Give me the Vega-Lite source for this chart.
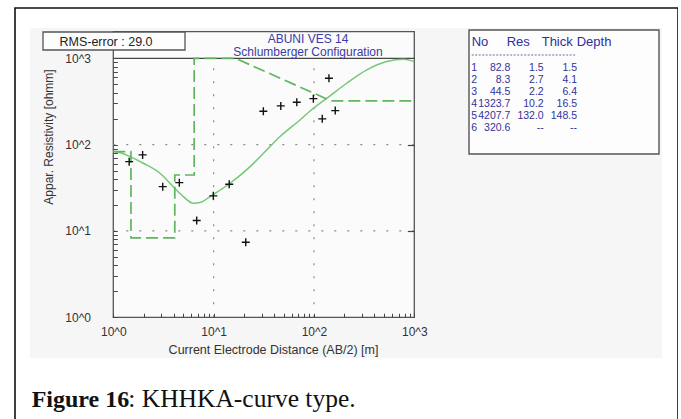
{
  "$schema": "https://vega.github.io/schema/vega-lite/v6.json",
  "width": 663,
  "height": 430,
  "autosize": "none",
  "padding": {"left": 15, "top": 8, "right": 0, "bottom": 0},
  "background": "white",
  "config": {"view": {"stroke": "#111111", "strokeWidth": 1.6, "fill": "white"}},
  "datasets": {
    "curve": [
      {"x": 1, "y": 83}, {"x": 1.2, "y": 80}, {"x": 1.47, "y": 72.6}, {"x": 1.99, "y": 60.9},
      {"x": 2.92, "y": 46.6}, {"x": 3.96, "y": 32.6}, {"x": 4.99, "y": 25}, {"x": 6.28, "y": 20.9},
      {"x": 7.6, "y": 21.7}, {"x": 9.2, "y": 25}, {"x": 14.6, "y": 35.7}, {"x": 23.1, "y": 55.6},
      {"x": 33.8, "y": 86.8}, {"x": 45.9, "y": 124}, {"x": 72.6, "y": 193}, {"x": 98.6, "y": 264},
      {"x": 141, "y": 360}, {"x": 212, "y": 514}, {"x": 336, "y": 734}, {"x": 532, "y": 916},
      {"x": 778, "y": 977}, {"x": 1000, "y": 916}
    ],
    "model": [
      {"x": 1, "y": 82.8}, {"x": 1.5, "y": 82.8}, {"x": 1.5, "y": 8.3}, {"x": 4.1, "y": 8.3},
      {"x": 4.1, "y": 44.5}, {"x": 6.4, "y": 44.5}, {"x": 6.4, "y": 1000}, {"x": 16.5, "y": 1000},
      {"x": 148.5, "y": 320.6}, {"x": 1000, "y": 320.6}
    ],
    "obs": [
      {"x": 1.44, "y": 63.5}, {"x": 1.96, "y": 76}, {"x": 3.11, "y": 32.6}, {"x": 4.55, "y": 36.3},
      {"x": 6.78, "y": 13.2}, {"x": 9.93, "y": 25.5}, {"x": 14.3, "y": 34.8}, {"x": 20.9, "y": 7.4},
      {"x": 31.3, "y": 244}, {"x": 46.7, "y": 281}, {"x": 67.4, "y": 310}, {"x": 98.6, "y": 341},
      {"x": 121, "y": 199}, {"x": 141, "y": 588}, {"x": 163, "y": 248}
    ],
    "grid": [{"v": 10}, {"v": 100}],
    "layers": [
      {"No": 1, "Res": "82.8", "Thick": "1.5", "Depth": "1.5"},
      {"No": 2, "Res": "8.3", "Thick": "2.7", "Depth": "4.1"},
      {"No": 3, "Res": "44.5", "Thick": "2.2", "Depth": "6.4"},
      {"No": 4, "Res": "1323.7", "Thick": "10.2", "Depth": "16.5"},
      {"No": 5, "Res": "4207.7", "Thick": "132.0", "Depth": "148.5"},
      {"No": 6, "Res": "320.6", "Thick": "--", "Depth": "--"}
    ],
    "hdr": [{"h": "No"}, {"h": "Res"}, {"h": "Thick"}, {"h": "Depth"}]
  },
  "layer": [
    {
      "resolve": {"axis": {"x": "independent", "y": "independent"}},
      "layer": [
        {
          "data": {"values": [{}]},
          "mark": {"type": "rect", "fill": "#f6f6f6"},
          "encoding": {
            "x": {"datum": 0.1478, "type": "quantitative", "scale": {"type": "log", "domain": [1, 1000], "range": [98.3, 399.3], "nice": false}, "axis": null},
            "x2": {"datum": 294200},
            "y": {"datum": 0.3378, "type": "quantitative", "scale": {"type": "log", "domain": [1, 1000], "range": [309.3, 50.3], "nice": false}, "axis": null},
            "y2": {"datum": 2243}
          }
        },
        {
          "data": {"values": [{}]},
          "mark": {"type": "rect", "fill": "#fbfbfb", "stroke": "#555555", "strokeWidth": 1.3},
          "encoding": {
            "x": {"datum": 1, "type": "quantitative", "scale": {"type": "log", "domain": [1, 1000], "range": [98.3, 399.3], "nice": false}, "axis": null},
            "x2": {"datum": 1000},
            "y": {"datum": 1, "type": "quantitative", "scale": {"type": "log", "domain": [1, 1000], "range": [309.3, 50.3], "nice": false}, "axis": null},
            "y2": {"datum": 2032}
          }
        },
        {
          "data": {"name": "grid"},
          "mark": {"type": "rule", "color": "#8a8a8a", "strokeDash": [2, 11], "strokeWidth": 1.2},
          "encoding": {
            "x": {"field": "v", "type": "quantitative", "scale": {"type": "log", "domain": [1, 1000], "range": [98.3, 399.3], "nice": false}, "axis": null},
            "y": {"datum": 1, "type": "quantitative", "scale": {"type": "log", "domain": [1, 1000], "range": [309.3, 50.3], "nice": false}, "axis": null},
            "y2": {"datum": 1000}
          }
        },
        {
          "data": {"name": "grid"},
          "mark": {"type": "rule", "color": "#8a8a8a", "strokeDash": [2, 11], "strokeWidth": 1.2},
          "encoding": {
            "y": {"field": "v", "type": "quantitative", "scale": {"type": "log", "domain": [1, 1000], "range": [309.3, 50.3], "nice": false}, "axis": null},
            "x": {"datum": 1, "type": "quantitative", "scale": {"type": "log", "domain": [1, 1000], "range": [98.3, 399.3], "nice": false}, "axis": null},
            "x2": {"datum": 1000}
          }
        },
        {
          "data": {"values": [{}]},
          "mark": {"type": "rule", "color": "#444444", "strokeWidth": 1.2},
          "encoding": {
            "x": {"datum": 1, "type": "quantitative", "scale": {"type": "log", "domain": [1, 1000], "range": [98.3, 399.3], "nice": false}, "axis": null},
            "x2": {"datum": 1000},
            "y": {"datum": 1000, "type": "quantitative", "scale": {"type": "log", "domain": [1, 1000], "range": [309.3, 50.3], "nice": false},
              "axis": {"orient": "right", "offset": -263.7, "values": [10, 100], "labels": false, "tickSize": -7, "tickColor": "#444444", "tickWidth": 1.2, "domain": false, "grid": false, "title": null, "zindex": 1}}
          }
        },
        {
          "data": {"name": "curve"},
          "mark": {"type": "line", "color": "#76c776", "strokeWidth": 1.5, "interpolate": "monotone"},
          "encoding": {
            "x": {"field": "x", "type": "quantitative", "scale": {"type": "log", "domain": [1, 1000], "range": [98.3, 399.3], "nice": false}, "axis": null},
            "y": {"field": "y", "type": "quantitative", "scale": {"type": "log", "domain": [1, 1000], "range": [309.3, 50.3], "nice": false}, "axis": null}
          }
        },
        {
          "data": {"name": "model"},
          "mark": {"type": "line", "color": "#5fb65f", "strokeWidth": 1.7, "strokeDash": [12, 5]},
          "encoding": {
            "x": {"field": "x", "type": "quantitative", "scale": {"type": "log", "domain": [1, 1000], "range": [98.3, 399.3], "nice": false}, "axis": null},
            "y": {"field": "y", "type": "quantitative", "scale": {"type": "log", "domain": [1, 1000], "range": [309.3, 50.3], "nice": false}, "axis": null},
            "order": {"value": null}
          }
        },
        {
          "data": {"name": "obs"},
          "mark": {"type": "point", "shape": "M-1,0L1,0M0,-1L0,1", "size": 64, "filled": false, "color": "#111111", "strokeWidth": 1.4, "opacity": 1},
          "encoding": {
            "x": {"field": "x", "type": "quantitative", "scale": {"type": "log", "domain": [1, 1000], "range": [98.3, 399.3], "nice": false},
              "axis": {
                "orient": "bottom", "offset": -120.7, "zindex": 1,
                "values": [1, 2, 3, 4, 5, 6, 7, 8, 9, 10, 20, 30, 40, 50, 60, 70, 80, 90, 100, 200, 300, 400, 500, 600, 700, 800, 900, 1000],
                "labelExpr": "abs(log(datum.value)/LN10 - round(log(datum.value)/LN10)) < 0.000001 ? '10^' + round(log(datum.value)/LN10) : ''",
                "labelFlush": false, "labelOverlap": false, "labelBound": false,
                "labelFont": "Liberation Sans", "labelFontSize": 12, "labelColor": "#333333", "labelPadding": 12.7,
                "tickSize": -4, "tickColor": "#444444", "tickWidth": 1,
                "domain": false, "grid": false,
                "title": "Current Electrode Distance (AB/2) [m]",
                "titleFont": "Liberation Sans", "titleFontSize": 12.5, "titleFontWeight": "normal", "titleColor": "#333333",
                "titleX": 258, "titleY": 31.7, "titleAlign": "center", "titleBaseline": "middle", "titleAnchor": null
              }},
            "y": {"field": "y", "type": "quantitative", "scale": {"type": "log", "domain": [1, 1000], "range": [309.3, 50.3], "nice": false},
              "axis": {
                "orient": "left", "offset": -98.3, "zindex": 1,
                "values": [1, 2, 3, 4, 5, 6, 7, 8, 9, 10, 20, 30, 40, 50, 60, 70, 80, 90, 100, 200, 300, 400, 500, 600, 700, 800, 900, 1000],
                "labelExpr": "abs(log(datum.value)/LN10 - round(log(datum.value)/LN10)) < 0.000001 ? '10^' + round(log(datum.value)/LN10) : ''",
                "labelFlush": false, "labelOverlap": false, "labelBound": false,
                "labelFont": "Liberation Sans", "labelFontSize": 12, "labelColor": "#333333", "labelPadding": 26.8,
                "tickSize": -4, "tickColor": "#444444", "tickWidth": 1,
                "domain": false, "grid": false,
                "title": "Appar. Resistivity [ohmm]",
                "titleFont": "Liberation Sans", "titleFontSize": 12, "titleFontWeight": "normal", "titleColor": "#333333",
                "titleX": -65, "titleY": 128.5, "titleAngle": 270, "titleAlign": "center", "titleBaseline": "middle", "titleAnchor": null
              }}
          }
        },
        {
          "data": {"values": [{}]},
          "mark": {"type": "rect", "fill": "#fdfdfd", "stroke": "#555555", "strokeWidth": 1.3},
          "encoding": {
            "x": {"datum": 0.1992, "type": "quantitative", "scale": {"type": "log", "domain": [1, 1000], "range": [98.3, 399.3], "nice": false}, "axis": null},
            "x2": {"datum": 5.184},
            "y": {"datum": 1248, "type": "quantitative", "scale": {"type": "log", "domain": [1, 1000], "range": [309.3, 50.3], "nice": false}, "axis": null},
            "y2": {"datum": 2017}
          }
        },
        {
          "data": {"values": [{}]},
          "mark": {"type": "text", "text": "RMS-error : 29.0", "font": "Liberation Sans", "fontSize": 12.5, "color": "#222222", "align": "center", "baseline": "middle"},
          "encoding": {
            "x": {"datum": 0.8456, "type": "quantitative", "scale": {"type": "log", "domain": [1, 1000], "range": [98.3, 399.3], "nice": false}, "axis": null},
            "y": {"datum": 1565, "type": "quantitative", "scale": {"type": "log", "domain": [1, 1000], "range": [309.3, 50.3], "nice": false}, "axis": null}
          }
        },
        {
          "data": {"values": [{}]},
          "mark": {"type": "text", "text": "ABUNI VES 14", "font": "Liberation Sans", "fontSize": 12, "color": "#3a3aa8", "align": "center", "baseline": "middle"},
          "encoding": {
            "x": {"datum": 87.2, "type": "quantitative", "scale": {"type": "log", "domain": [1, 1000], "range": [98.3, 399.3], "nice": false}, "axis": null},
            "y": {"datum": 1660, "type": "quantitative", "scale": {"type": "log", "domain": [1, 1000], "range": [309.3, 50.3], "nice": false}, "axis": null}
          }
        },
        {
          "data": {"values": [{}]},
          "mark": {"type": "text", "text": "Schlumberger Configuration", "font": "Liberation Sans", "fontSize": 12, "color": "#3a3aa8", "align": "center", "baseline": "middle"},
          "encoding": {
            "x": {"datum": 87.2, "type": "quantitative", "scale": {"type": "log", "domain": [1, 1000], "range": [98.3, 399.3], "nice": false}, "axis": null},
            "y": {"datum": 1180, "type": "quantitative", "scale": {"type": "log", "domain": [1, 1000], "range": [309.3, 50.3], "nice": false}, "axis": null}
          }
        },
        {
          "data": {"values": [{}]},
          "mark": {"type": "rect", "fill": "#fdfdfd", "stroke": "#555555", "strokeWidth": 1.4},
          "encoding": {
            "x": {"datum": 3510, "type": "quantitative", "scale": {"type": "log", "domain": [1, 1000], "range": [98.3, 399.3], "nice": false}, "axis": null},
            "x2": {"datum": 274700},
            "y": {"datum": 77.9, "type": "quantitative", "scale": {"type": "log", "domain": [1, 1000], "range": [309.3, 50.3], "nice": false}, "axis": null},
            "y2": {"datum": 2127}
          }
        },
        {
          "data": {"values": [{}]},
          "mark": {"type": "text", "text": "Figure 16", "font": "Liberation Serif", "fontSize": 24, "fontWeight": "bold", "color": "#111111", "align": "left", "baseline": "alphabetic"},
          "encoding": {
            "x": {"datum": 0.1536, "type": "quantitative", "scale": {"type": "log", "domain": [1, 1000], "range": [98.3, 399.3], "nice": false}, "axis": null},
            "y": {"datum": 0.0921, "type": "quantitative", "scale": {"type": "log", "domain": [1, 1000], "range": [309.3, 50.3], "nice": false}, "axis": null}
          }
        },
        {
          "data": {"values": [{}]},
          "mark": {"type": "text", "text": ": KHHKA-curve type.", "font": "Liberation Serif", "fontSize": 25.5, "color": "#111111", "align": "left", "baseline": "alphabetic"},
          "encoding": {
            "x": {"datum": 1.411, "type": "quantitative", "scale": {"type": "log", "domain": [1, 1000], "range": [98.3, 399.3], "nice": false}, "axis": null},
            "y": {"datum": 0.0921, "type": "quantitative", "scale": {"type": "log", "domain": [1, 1000], "range": [309.3, 50.3], "nice": false}, "axis": null}
          }
        }
      ]
    },
    {
      "data": {"name": "layers"},
      "transform": [{"fold": ["No", "Res", "Thick", "Depth"]}],
      "mark": {"type": "text", "align": "right", "baseline": "middle", "font": "Liberation Sans", "fontSize": 10.5, "color": "#33339a"},
      "encoding": {
        "x": {"field": "key", "type": "nominal", "scale": {"type": "point", "domain": ["No", "Res", "Thick", "Depth"], "range": [462, 562], "padding": 0}, "axis": null},
        "y": {"field": "No", "type": "quantitative", "scale": {"domain": [1, 6], "range": [60.3, 120.3], "nice": false, "zero": false}, "axis": null},
        "text": {"field": "value", "type": "nominal"}
      }
    },
    {
      "layer": [
        {
          "data": {"name": "hdr"},
          "mark": {"type": "text", "align": "left", "baseline": "middle", "font": "Liberation Sans", "fontSize": 13, "color": "#2f2fa0"},
          "encoding": {
            "x": {"field": "h", "type": "nominal", "scale": {"type": "point", "domain": ["No", "Res", "Thick", "Depth"], "range": [456.7, 561.7], "padding": 0}, "axis": null},
            "y": {"datum": 0, "type": "quantitative", "scale": {"domain": [0, 1], "range": [33.7, 47], "nice": false, "zero": false}, "axis": null},
            "text": {"field": "h", "type": "nominal"}
          }
        },
        {
          "data": {"values": [{}]},
          "mark": {"type": "rule", "color": "#6a6aaa", "strokeDash": [2, 1.5], "strokeWidth": 1},
          "encoding": {
            "x": {"datum": "No", "type": "nominal", "scale": {"type": "point", "domain": ["No", "Res", "Thick", "Depth"], "range": [456.7, 561.7], "padding": 0}, "axis": null},
            "x2": {"datum": "Depth"},
            "y": {"datum": 1, "type": "quantitative", "scale": {"domain": [0, 1], "range": [33.7, 47], "nice": false, "zero": false}, "axis": null}
          }
        }
      ]
    }
  ],
  "resolve": {"scale": {"x": "independent", "y": "independent"}}
}
